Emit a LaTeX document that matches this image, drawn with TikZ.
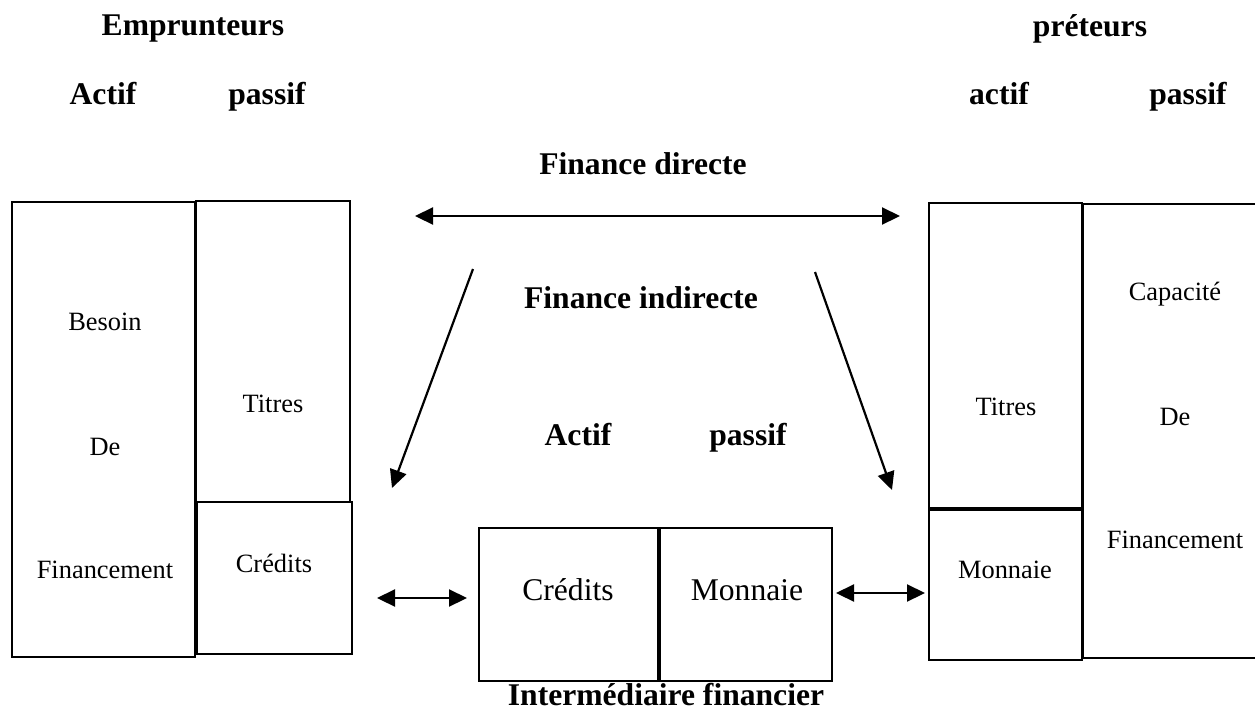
\documentclass[tikz,border=0pt]{standalone}
\usepackage{fontspec}
\setmainfont{Liberation Serif}
\usetikzlibrary{arrows.meta}

\tikzset{
  titre/.style={font=\fontsize{15.8}{19}\selectfont\bfseries, anchor=base, inner sep=0pt},
  grand/.style={font=\fontsize{15.8}{19}\selectfont, anchor=base, inner sep=0pt},
  petit/.style={font=\fontsize{13.2}{16}\selectfont, anchor=base, inner sep=0pt},
  cadre/.style={line width=1pt},
  pointe/.tip={Triangle[length=9pt,width=8.5pt]},
  aller/.style={line width=1.1pt, -pointe},
  retour/.style={line width=1.1pt, pointe-pointe},
}

\begin{document}
\begin{tikzpicture}[x=0.5pt, y=-0.5pt]
    \useasboundingbox (0,0) rectangle (1255,713);
    % titres
    \node[titre] (empr) at (193,35) {Emprunteurs};
    \node[titre] (pret) at (1090,36) {préteurs};
    \node[titre] (eactif) at (103,104) {Actif};
    \node[titre] (epassif) at (267,104) {passif};
    \node[titre] (pactif) at (999,104) {actif};
    \node[titre] (ppassif) at (1188,104) {passif};
    \node[titre] (direct) at (643,174) {Finance directe};
    \node[titre] (indirect) at (641,308) {Finance indirecte};
    \node[titre] (iactif) at (578,445) {Actif};
    \node[titre] (ipassif) at (748,445) {passif};
    \node[titre] (inter) at (666,705) {Intermédiaire financier};
    % bilans
    \foreach \xa/\ya/\xb/\yb in {12/202/195/657, 196/201/350/502, 197/502/352/654,
        479/528/658/681, 660/528/832/681,
        929/203/1082/508, 929/510/1082/660, 1083/204/1257/658} {
        \draw[cadre] (\xa,\ya) rectangle (\xb,\yb);
      }
    \node[petit] (besoin) at (105,330) {Besoin};
    \node[petit] (bde) at (105,455) {De};
    \node[petit] (bfin) at (105,578) {Financement};
    \node[petit] (etitres) at (273,412) {Titres};
    \node[petit] (ecredits) at (274,572) {Crédits};
    \node[grand] (icredits) at (568,600) {Crédits};
    \node[grand] (imonnaie) at (747,600) {Monnaie};
    \node[petit] (ptitres) at (1006,415) {Titres};
    \node[petit] (pmonnaie) at (1005,578) {Monnaie};
    \node[petit] (capa) at (1175,300) {Capacité};
    \node[petit] (cde) at (1175,425) {De};
    \node[petit] (cfin) at (1175,548) {Financement};
    % fleches
    \coordinate (d1) at (415,216);
    \coordinate (d2) at (900,216);
    \coordinate (g0) at (473,269);
    \coordinate (g1) at (392,488);
    \coordinate (r0) at (815,272);
    \coordinate (r1) at (892,490);
    \coordinate (c1) at (377,598);
    \coordinate (c2) at (467,598);
    \coordinate (m1) at (836,593);
    \coordinate (m2) at (925,593);
    \draw[retour] (d1) -- (d2);
    \draw[aller] (g0) -- (g1);
    \draw[aller] (r0) -- (r1);
    \draw[retour] (c1) -- (c2);
    \draw[retour] (m1) -- (m2);
  \end{tikzpicture}
\end{document}
